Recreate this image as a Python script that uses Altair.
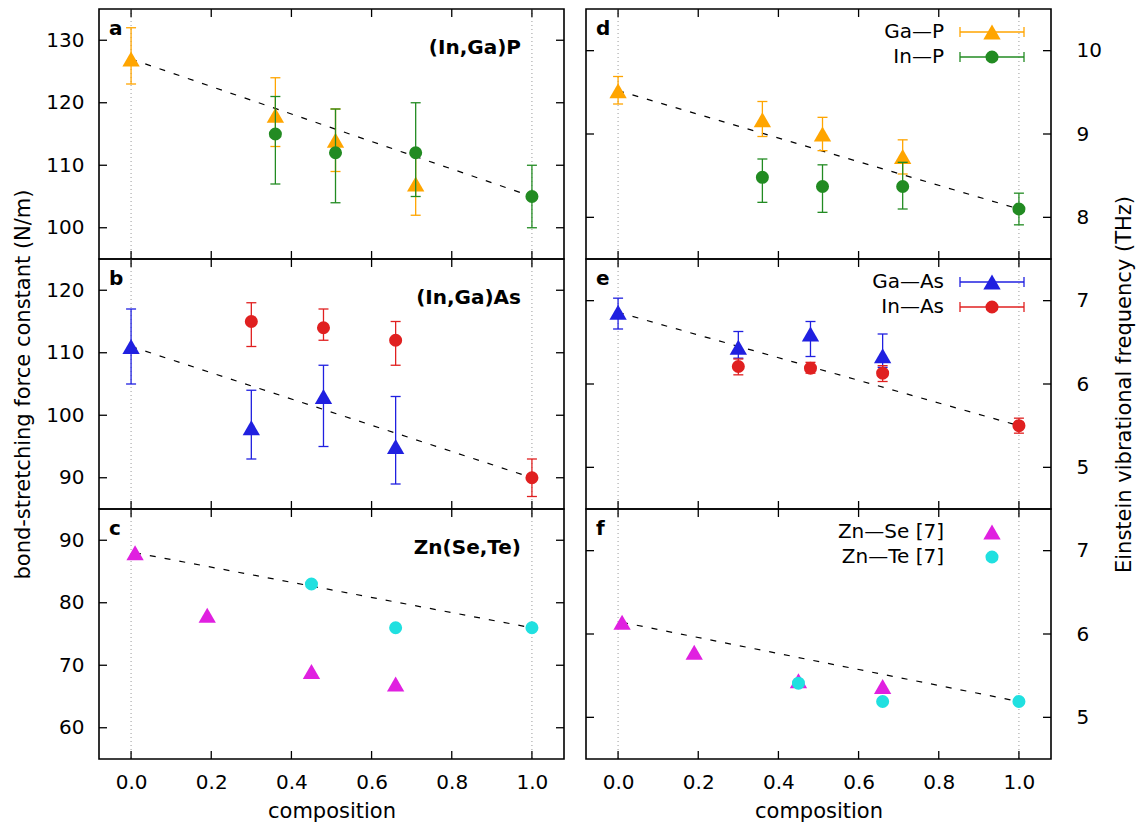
import altair as alt
import pandas as pd

# ------------------------------------------------------------------ data
x_ticks = [0.0, 0.2, 0.4, 0.6, 0.8, 1.0]
x_domain = [-0.08, 1.08]

# panels a / d : (In,Ga)P
comp_GaP = [0.0, 0.36, 0.51, 0.71]
k_GaP = [127, 118, 114, 107]
k_GaP_lo = [123, 113, 109, 102]
k_GaP_hi = [132, 124, 119, 112]
nu_GaP = [9.52, 9.17, 9.00, 8.73]
nu_GaP_lo = [9.36, 8.97, 8.80, 8.52]
nu_GaP_hi = [9.69, 9.39, 9.20, 8.93]

comp_InP = [0.36, 0.51, 0.71, 1.0]
k_InP = [115, 112, 112, 105]
k_InP_lo = [107, 104, 105, 100]
k_InP_hi = [121, 119, 120, 110]
nu_InP = [8.48, 8.37, 8.37, 8.10]
nu_InP_lo = [8.18, 8.06, 8.10, 7.91]
nu_InP_hi = [8.70, 8.63, 8.66, 8.29]

# panels b / e : (In,Ga)As
comp_GaAs = [0.0, 0.30, 0.48, 0.66]
k_GaAs = [111, 98, 103, 95]
k_GaAs_lo = [105, 93, 95, 89]
k_GaAs_hi = [117, 104, 108, 103]
nu_GaAs = [6.86, 6.44, 6.60, 6.34]
nu_GaAs_lo = [6.66, 6.31, 6.33, 6.20]
nu_GaAs_hi = [7.03, 6.63, 6.75, 6.60]

comp_InAs = [0.30, 0.48, 0.66, 1.0]
k_InAs = [115, 114, 112, 90]
k_InAs_lo = [111, 112, 108, 87]
k_InAs_hi = [118, 117, 115, 93]
nu_InAs = [6.21, 6.19, 6.13, 5.50]
nu_InAs_lo = [6.11, 6.13, 6.03, 5.41]
nu_InAs_hi = [6.30, 6.26, 6.22, 5.59]

# panels c / f : Zn(Se,Te)
comp_ZnSe = [0.01, 0.19, 0.45, 0.66]
k_ZnSe = [88, 78, 69, 67]
nu_ZnSe = [6.14, 5.78, 5.44, 5.37]
comp_ZnTe = [0.45, 0.66, 1.0]
k_ZnTe = [83, 76, 76]
nu_ZnTe = [5.41, 5.19, 5.19]

# straight reference lines between the end members
vegard_comp = [0.0, 1.0]
vegard_comp_Zn = [0.01, 1.0]
vegard_k_InGaP = [127, 105]
vegard_nu_InGaP = [9.52, 8.10]
vegard_k_InGaAs = [111, 90]
vegard_nu_InGaAs = [6.86, 5.50]
vegard_k_ZnSeTe = [88, 76]
vegard_nu_ZnSeTe = [6.14, 5.19]

# axis ranges / ticks
k_dom_a, k_ticks_a = [95, 135], [100, 110, 120, 130]
k_dom_b, k_ticks_b = [85, 125], [90, 100, 110, 120]
k_dom_c, k_ticks_c = [55, 95], [60, 70, 80, 90]
nu_dom_d, nu_ticks_d = [7.5, 10.5], [8, 9, 10]
nu_dom_e, nu_ticks_e = [4.5, 7.5], [5, 6, 7]
nu_dom_f, nu_ticks_f = [4.5, 7.5], [5, 6, 7]

# colours
C_GaP, C_InP = "#FFA500", "#228B22"
C_GaAs, C_InAs = "#2020E0", "#E02020"
C_ZnSe, C_ZnTe = "#E020E0", "#20E0E0"

FONT = "DejaVu Sans"
W, H = 465, 250
TRI, CIRC = 300, 170


def make_panel(ydom, yticks, series, vx, vy, letter, compound, legend,
               right, show_x, ytitle):
    xs = alt.Scale(domain=x_domain, nice=False, zero=False)
    ys = alt.Scale(domain=ydom, nice=False, zero=False)
    if show_x:
        xaxis = alt.Axis(title="composition", values=x_ticks, format=".1f",
                         ticks=False, domain=False, grid=False, labelPadding=13,
                         titlePadding=8, labelFlush=False)
    else:
        xaxis = None
    yargs = dict(values=yticks, title=ytitle, ticks=False, domain=False,
                 grid=False, labelFlush=False, labelOverlap=False)
    if right:
        yaxis = alt.Axis(orient="right", labelPadding=25, titlePadding=25,
                         titleAngle=270, titleBaseline="top", **yargs)
    else:
        yaxis = alt.Axis(orient="left", labelPadding=15, titlePadding=12, **yargs)

    def X(f):
        return alt.X(f, type="quantitative", scale=xs, axis=xaxis)

    def Y(f):
        return alt.Y(f, type="quantitative", scale=ys, axis=yaxis)

    layers = []
    # dotted guides at the end members
    layers.append(
        alt.Chart(pd.DataFrame({"g": vegard_comp}))
        .mark_rule(color="#9a9a9a", strokeDash=[1, 3], strokeWidth=1)
        .encode(x=X("g"))
    )
    # dashed reference line
    layers.append(
        alt.Chart(pd.DataFrame({"c": vx, "v": vy}))
        .mark_line(color="black", strokeDash=[6, 9], strokeWidth=1.2)
        .encode(x=X("c"), y=Y("v"))
    )
    # data series
    for s in series:
        col, shape = s["color"], s["shape"]
        size = TRI if shape == "triangle-up" else CIRC
        if s.get("lo") is not None:
            df = pd.DataFrame({"c": s["x"], "v": s["y"], "lo": s["lo"], "hi": s["hi"]})
            layers.append(
                alt.Chart(df).mark_rule(color=col, strokeWidth=1.3)
                .encode(x=X("c"), y=Y("lo"), y2=alt.Y2("hi"))
            )
            for f in ("lo", "hi"):
                layers.append(
                    alt.Chart(df).mark_tick(color=col, orient="horizontal",
                                            size=10, thickness=1.3, opacity=1)
                    .encode(x=X("c"), y=Y(f))
                )
        else:
            df = pd.DataFrame({"c": s["x"], "v": s["y"]})
        layers.append(
            alt.Chart(df).mark_point(filled=True, shape=shape, size=size,
                                     color=col, opacity=1)
            .encode(x=X("c"), y=Y("v"))
        )
    # inward tick marks on all four sides
    tx = pd.DataFrame({"t": x_ticks})
    ty = pd.DataFrame({"t": yticks})
    tk = dict(color="black", strokeWidth=1.3)
    layers.append(alt.Chart(tx).mark_rule(**tk).encode(x=X("t"), y=alt.value(0), y2=alt.value(8)))
    layers.append(alt.Chart(tx).mark_rule(**tk).encode(x=X("t"), y=alt.value(H), y2=alt.value(H - 8)))
    layers.append(alt.Chart(ty).mark_rule(**tk).encode(y=Y("t"), x=alt.value(0), x2=alt.value(8)))
    layers.append(alt.Chart(ty).mark_rule(**tk).encode(y=Y("t"), x=alt.value(W), x2=alt.value(W - 8)))
    # panel letter
    layers.append(
        alt.Chart(pd.DataFrame({"s": [letter]}))
        .mark_text(font=FONT, fontSize=20, fontWeight="bold", align="left",
                   baseline="middle", color="black")
        .encode(x=alt.value(10), y=alt.value(20), text="s:N")
    )
    if compound:
        layers.append(
            alt.Chart(pd.DataFrame({"s": [compound]}))
            .mark_text(font=FONT, fontSize=20, fontWeight="bold", align="right",
                       baseline="middle", color="black")
            .encode(x=alt.value(422), y=alt.value(39), text="s:N")
        )
    # legend (key on the right of the label)
    for i, ent in enumerate(legend or []):
        yy = 23 + 25 * i
        one = pd.DataFrame({"s": [ent["name"]]})
        layers.append(
            alt.Chart(one).mark_text(font=FONT, fontSize=20, align="right",
                                     baseline="middle", color="black")
            .encode(x=alt.value(358), y=alt.value(yy), text="s:N")
        )
        if ent["err"]:
            layers.append(alt.Chart(one).mark_rule(color=ent["color"], strokeWidth=1.3)
                          .encode(x=alt.value(374), x2=alt.value(438), y=alt.value(yy)))
            for xx in (374, 438):
                layers.append(alt.Chart(one).mark_rule(color=ent["color"], strokeWidth=1.3)
                              .encode(x=alt.value(xx), y=alt.value(yy - 5), y2=alt.value(yy + 5)))
        sz = TRI if ent["shape"] == "triangle-up" else CIRC
        layers.append(
            alt.Chart(one).mark_point(filled=True, shape=ent["shape"], size=sz,
                                      color=ent["color"], opacity=1)
            .encode(x=alt.value(406), y=alt.value(yy))
        )
    return alt.layer(*layers).properties(width=W, height=H)


TRIS, CIRS = "triangle-up", "circle"

pa = make_panel(k_dom_a, k_ticks_a, [
    dict(x=comp_GaP, y=k_GaP, lo=k_GaP_lo, hi=k_GaP_hi, color=C_GaP, shape=TRIS),
    dict(x=comp_InP, y=k_InP, lo=k_InP_lo, hi=k_InP_hi, color=C_InP, shape=CIRS),
], vegard_comp, vegard_k_InGaP, "a", "(In,Ga)P", None, False, False, None)

pd_ = make_panel(nu_dom_d, nu_ticks_d, [
    dict(x=comp_GaP, y=nu_GaP, lo=nu_GaP_lo, hi=nu_GaP_hi, color=C_GaP, shape=TRIS),
    dict(x=comp_InP, y=nu_InP, lo=nu_InP_lo, hi=nu_InP_hi, color=C_InP, shape=CIRS),
], vegard_comp, vegard_nu_InGaP, "d", None, [
    dict(name="Ga—P", color=C_GaP, shape=TRIS, err=True),
    dict(name="In—P", color=C_InP, shape=CIRS, err=True),
], True, False, None)

pb = make_panel(k_dom_b, k_ticks_b, [
    dict(x=comp_GaAs, y=k_GaAs, lo=k_GaAs_lo, hi=k_GaAs_hi, color=C_GaAs, shape=TRIS),
    dict(x=comp_InAs, y=k_InAs, lo=k_InAs_lo, hi=k_InAs_hi, color=C_InAs, shape=CIRS),
], vegard_comp, vegard_k_InGaAs, "b", "(In,Ga)As", None, False, False,
    "bond-stretching force constant (N/m)")

pe = make_panel(nu_dom_e, nu_ticks_e, [
    dict(x=comp_GaAs, y=nu_GaAs, lo=nu_GaAs_lo, hi=nu_GaAs_hi, color=C_GaAs, shape=TRIS),
    dict(x=comp_InAs, y=nu_InAs, lo=nu_InAs_lo, hi=nu_InAs_hi, color=C_InAs, shape=CIRS),
], vegard_comp, vegard_nu_InGaAs, "e", None, [
    dict(name="Ga—As", color=C_GaAs, shape=TRIS, err=True),
    dict(name="In—As", color=C_InAs, shape=CIRS, err=True),
], True, False, "Einstein vibrational frequency (THz)")

pc = make_panel(k_dom_c, k_ticks_c, [
    dict(x=comp_ZnSe, y=k_ZnSe, color=C_ZnSe, shape=TRIS),
    dict(x=comp_ZnTe, y=k_ZnTe, color=C_ZnTe, shape=CIRS),
], vegard_comp_Zn, vegard_k_ZnSeTe, "c", "Zn(Se,Te)", None, False, True, None)

pf = make_panel(nu_dom_f, nu_ticks_f, [
    dict(x=comp_ZnSe, y=nu_ZnSe, color=C_ZnSe, shape=TRIS),
    dict(x=comp_ZnTe, y=nu_ZnTe, color=C_ZnTe, shape=CIRS),
], vegard_comp_Zn, vegard_nu_ZnSeTe, "f", None, [
    dict(name="Zn—Se [7]", color=C_ZnSe, shape=TRIS, err=False),
    dict(name="Zn—Te [7]", color=C_ZnTe, shape=CIRS, err=False),
], True, True, None)

chart = (
    alt.concat(pa, pd_, pb, pe, pc, pf, columns=2,
               spacing={"row": 0, "column": 22}, bounds="flush")
    .properties(padding={"left": 12, "top": 7, "right": 5, "bottom": 5},
                background="white")
    .configure_view(stroke="black", strokeWidth=1.6)
    .configure_axis(labelFont=FONT, titleFont=FONT, labelFontSize=20,
                    titleFontSize=21, labelColor="black", titleColor="black",
                    titleFontWeight="normal")
)

chart.save("out.html", embed_options={"renderer": "svg", "actions": False})
